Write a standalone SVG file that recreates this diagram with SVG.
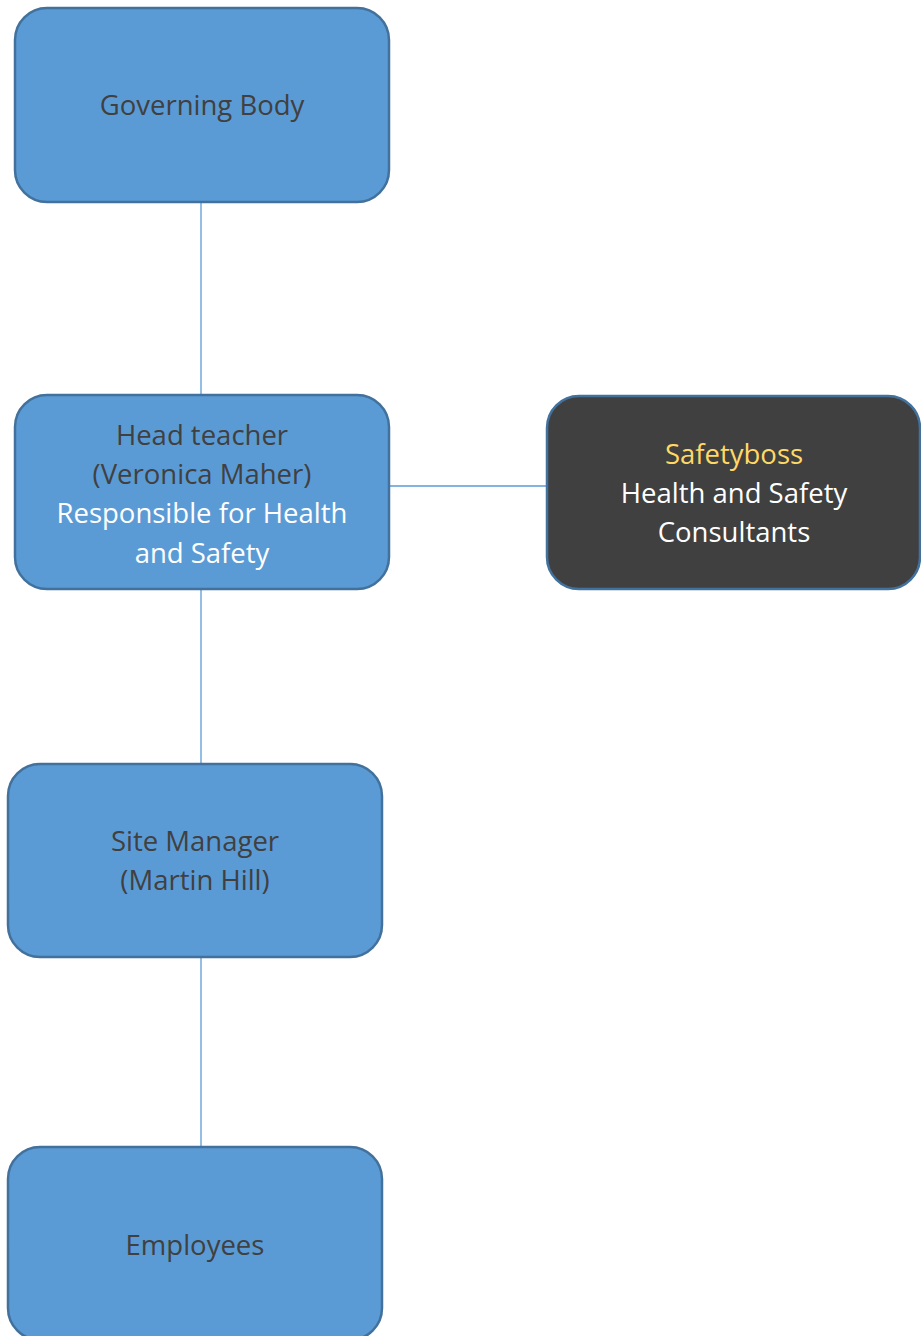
<svg xmlns="http://www.w3.org/2000/svg" width="921" height="1336" viewBox="0 0 921 1336">
<style>
.box{fill:#5B9BD5;stroke:#41719C;stroke-width:2.5}
.dark{fill:#404040;stroke:#41719C;stroke-width:2.5}
.conn{stroke:#5B9BD5;stroke-width:1.3;fill:none}
text{font-family:"Open Sans","DejaVu Sans",sans-serif;font-size:27.5px;text-anchor:middle}
.t{fill:#404040}
.w{fill:#FFFFFF}
.y{fill:#FFD966}
</style>
<rect width="921" height="1336" fill="#FFFFFF"/>
<g id="connectors">
<line class="conn" x1="201" y1="202" x2="201" y2="395"/>
<line class="conn" x1="201" y1="589" x2="201" y2="764"/>
<line class="conn" x1="201" y1="957" x2="201" y2="1147"/>
<line class="conn" x1="389" y1="486" x2="547" y2="486"/>
</g>
<g id="governing-body">
<rect class="box" x="15" y="8" width="374" height="194" rx="32"/>
<text class="t" x="202" y="115">Governing Body</text>
</g>
<g id="head-teacher">
<rect class="box" x="15" y="395" width="374" height="194" rx="32"/>
<text class="t" x="202" y="445">Head teacher</text>
<text class="t" x="202" y="484">(Veronica Maher)</text>
<text class="w" x="202" y="523">Responsible for Health</text>
<text class="w" x="202" y="563">and Safety</text>
</g>
<g id="safetyboss">
<rect class="dark" x="547" y="396" width="373" height="193" rx="32"/>
<text class="y" x="734" y="464">Safetyboss</text>
<text class="w" x="734" y="503">Health and Safety</text>
<text class="w" x="734" y="542">Consultants</text>
</g>
<g id="site-manager">
<rect class="box" x="8" y="764" width="374" height="193" rx="32"/>
<text class="t" x="195" y="851">Site Manager</text>
<text class="t" x="195" y="890">(Martin Hill)</text>
</g>
<g id="employees">
<rect class="box" x="8" y="1147" width="374" height="193" rx="32"/>
<text class="t" x="195" y="1255">Employees</text>
</g>
</svg>
